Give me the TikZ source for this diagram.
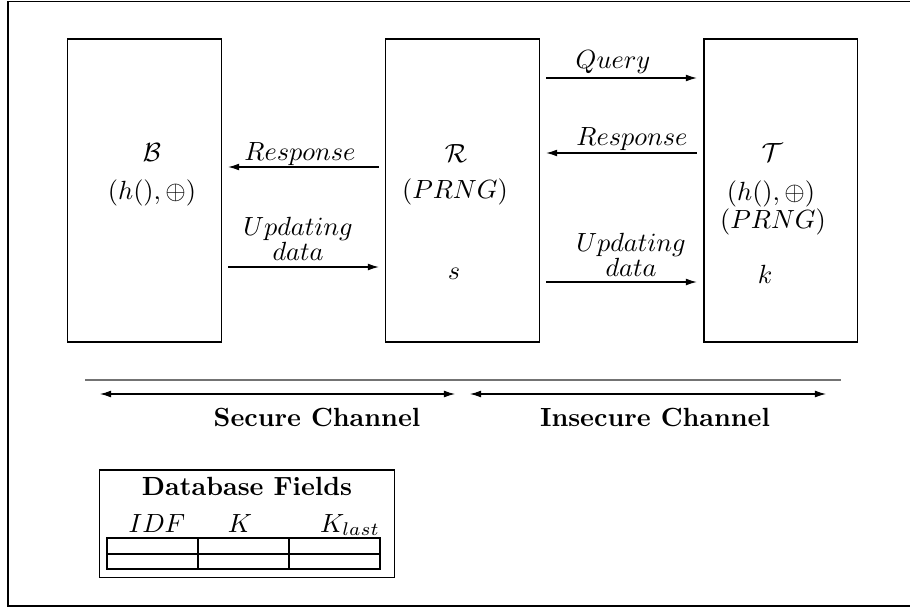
\documentclass[tikz,border=0pt]{standalone}
\usetikzlibrary{arrows.meta}
\begin{document}
\begin{tikzpicture}[x=0.3802pt,y=-0.3802pt,
  party/.style={draw,inner sep=0pt,minimum width=58.2pt,minimum height=115.2pt},
  lbl/.style={anchor=base,inner sep=0pt},
  msg/.style={-{Latex[length=4.2pt,width=2.6pt]},shorten <=2.5pt,shorten >=2.5pt},
  chan/.style={{Latex[length=4.2pt,width=2.6pt]}-{Latex[length=4.2pt,width=2.6pt]}},
  grid/.style={line width=0.8pt}]
\useasboundingbox (0,0) rectangle (910,608);
\clip (0,0) rectangle (910,608);
% outer frame (open on the right)
\draw (925,1.5) -- (8,1.5) -- (8,606) -- (925,606);

% the three parties
\node[party] (B) at (144.5,190.5) {};
\node[party] (R) at (462.5,190.5) {};
\node[party] (T) at (780.5,190.5) {};

\node[lbl] (bname) at (152,161) {$\mathcal{B}$};
\node[lbl] (bops)  at (152,199) {$(h(),\oplus)$};
\node[lbl] (rname) at (456,162) {$\mathcal{R}$};
\node[lbl] (rprng) at (455,198) {$(PRNG)$};
\node[lbl] (rs)    at (454,279) {$s$};
\node[lbl] (tname) at (772,161) {$\mathcal{T}$};
\node[lbl] (tops)  at (771,200) {$(h(),\oplus)$};
\node[lbl] (tprng) at (773,228) {$(PRNG)$};
\node[lbl] (tk)    at (765,283) {$k$};

% message levels
\coordinate (yRespB) at (0,167);
\coordinate (yUpdB)  at (0,267);
\coordinate (yQuery) at (0,78);
\coordinate (yRespT) at (0,153);
\coordinate (yUpdT)  at (0,282);

\draw[msg] (R.west |- yRespB) -- (B.east |- yRespB);
\draw[msg] (B.east |- yUpdB)  -- (R.west |- yUpdB);
\draw[msg] (R.east |- yQuery) -- (T.west |- yQuery);
\draw[msg] (T.west |- yRespT) -- (R.east |- yRespT);
\draw[msg] (R.east |- yUpdT)  -- (T.west |- yUpdT);

% labels (base anchor of a two-line label sits on its last line)
\node[lbl] (l1) at (300,160) {$Response$};
\node[lbl,align=center] (l2) at (298,260) {$Updating$\\[-2.7pt]$data$\hspace{6pt}};
\node[lbl] (l3) at (613,68) {$Query$};
\node[lbl] (l4) at (632,145) {$Response$};
\node[lbl,align=center] (l5) at (631,276) {$Updating$\\[-2.7pt]$data$\hspace{6pt}};

% channels
\draw[black!55,line width=0.6pt] (85,380) coordinate (sepL) -- (841,380) coordinate (sepR);
\coordinate (c1) at (100,394);
\coordinate (c2) at (455,394);
\coordinate (c3) at (470,394);
\coordinate (c4) at (826,394);
\draw[chan] (c1) -- (c2);
\draw[chan] (c3) -- (c4);
\node[lbl] (sec) at (317,426) {\textbf{Secure Channel}};
\node[lbl] (ins) at (655,426) {\textbf{Insecure Channel}};

% database fields table
\node[draw,inner sep=0pt,minimum width=112.5pt,minimum height=40.7pt] (db) at (247,523.5) {};
\node[lbl] (dbt) at (247,495) {\textbf{Database Fields}};
\node[lbl] (f1) at (157,532) {$IDF$};
\node[lbl] (f2) at (240,532) {$K$};
\node[lbl] (f3) at (350,532) {$K_{last}$};
\draw[grid] (107,538) rectangle (380,569);
\draw[grid] (107,554) -- (380,554);
\draw[grid] (198,538) -- (198,569);
\draw[grid] (289,538) -- (289,569);
\end{tikzpicture}
\end{document}
